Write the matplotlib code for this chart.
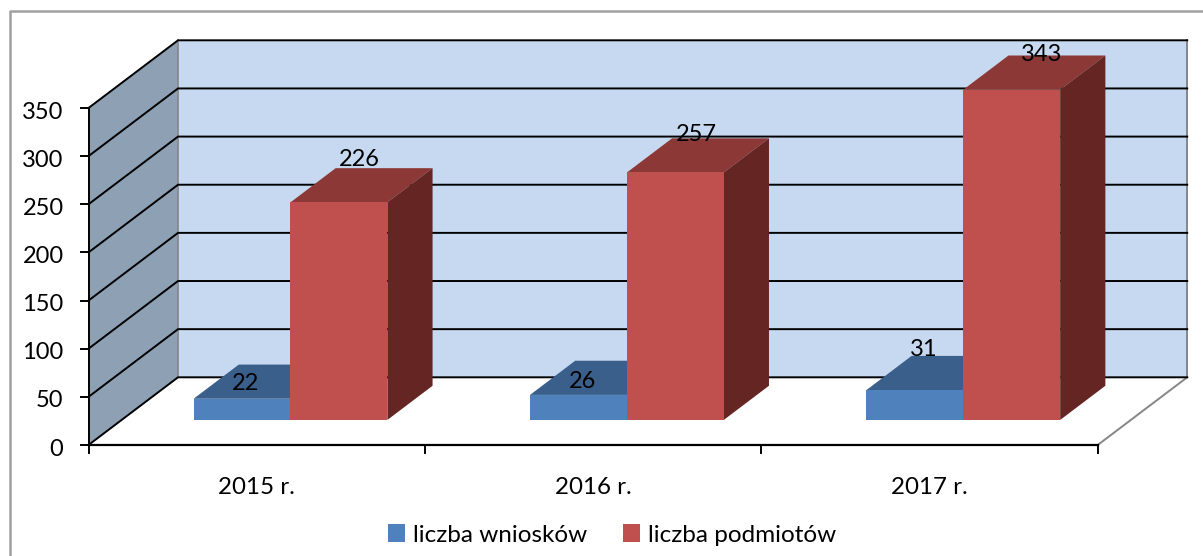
import matplotlib
matplotlib.use("Agg")
import matplotlib.pyplot as plt
from matplotlib.patches import Patch, Polygon

years = ["2015 r.", "2016 r.", "2017 r."]
wnioski = [22, 26, 31]
podmioty = [226, 257, 343]
yticks = [0, 50, 100, 150, 200, 250, 300, 350]

W, H = 1203, 556
X0, Y0 = 88.5, 445       # poczatek osi w pikselach
CAT = (1097.7 - 88.5) / 3
PXV = 337 / 350          # piksele na jednostke
DX, DY = 89.5, 67.7      # glebokosc wykresu
GAP, BW = 0.214, 0.288
D0, D1 = 0.37, 0.875

plt.rcParams["font.family"] = ["Lato", "DejaVu Sans"]
fig = plt.figure(figsize=(W / 100, H / 100), dpi=100)
ax = fig.add_axes([0, 0, 1, 1])
ax.set_xlim(-X0 / CAT, (W - X0) / CAT)
ax.set_ylim(-(H - Y0) / PXV, Y0 / PXV)
ax.axis("off")

def P(x, v, d=0.0):
    return (x + d * DX / CAT, v + d * DY / PXV)

def face(pts, color, z):
    ax.add_patch(Polygon(pts, closed=True, fc=color, ec="none", zorder=z))

top = yticks[-1]
n = len(years)
# sciany
face([P(0, 0), P(0, 0, 1), P(0, top, 1), P(0, top)], "#8EA0B4", 1)
face([P(0, 0, 1), P(n, 0, 1), P(n, top, 1), P(0, top, 1)], "#C6D9F1", 1)
ax.plot(*zip(P(0, 0, 1), P(0, top, 1)), color="#868686", lw=1.2, zorder=2)
ax.plot(*zip(P(n, 0, 1), P(n, top, 1)), color="#868686", lw=1.4, zorder=2)
ax.plot(*zip(P(n, 0), P(n, 0, 1)), color="#868686", lw=1.4, zorder=2)

for v in yticks:
    ax.plot(*zip(P(0, v), P(0, v, 1), P(n, v, 1)), color="black", lw=1.4, zorder=3, solid_joinstyle="miter")
    ax.plot([-8 / CAT, 0], [v, v], color="black", lw=1.4, zorder=3)
    ax.text(-25 / CAT, v - 4 / PXV, str(v), ha="right", va="center", fontsize=17, color="black")
ax.plot([0, 0], [0, top], color="black", lw=1.4, zorder=3)
ax.plot([0, n], [0, 0], color="black", lw=1.6, zorder=3)
for i in range(n + 1):
    ax.plot([i, i], [0, -8 / PXV], color="black", lw=1.4, zorder=3)

def bar(x, v, front, topc, side, z):
    x1 = x + BW
    face([P(x, 0, D0), P(x1, 0, D0), P(x1, v, D0), P(x, v, D0)], front, z + 0.2)
    face([P(x, v, D0), P(x1, v, D0), P(x1, v, D1), P(x, v, D1)], topc, z)
    face([P(x1, 0, D0), P(x1, 0, D1), P(x1, v, D1), P(x1, v, D0)], side, z + 0.1)

nudge_blue = [(3, 15), (4, 13), (9, 41)]
nudge_red = [(20, 43), (21, 38), (30, 35)]
for i in range(n):
    xb = i + GAP
    xr = xb + BW
    bar(xb, wnioski[i], "#4F81BD", "#3A5F8B", "#2F4F75", 4)
    bar(xr, podmioty[i], "#C0504D", "#8C3836", "#652523", 5)
    cx, cy = P(xb + BW / 2, wnioski[i], D0)
    ax.text(cx + nudge_blue[i][0] / CAT, cy + nudge_blue[i][1] / PXV, str(wnioski[i]),
            ha="center", va="center", fontsize=17, color="black", zorder=7)
    cx, cy = P(xr + BW / 2, podmioty[i], D0)
    ax.text(cx + nudge_red[i][0] / CAT, cy + nudge_red[i][1] / PXV, str(podmioty[i]),
            ha="center", va="center", fontsize=17, color="black", zorder=7)
    ax.text(i + 0.5, -43 / PXV, years[i], ha="center", va="center", fontsize=17.4, color="black")

# ramka wykresu, prawa i dolna krawedz poza kadrem
ax.plot([10 / W, 10 / W, 1], [0, 1 - 11 / H, 1 - 11 / H], transform=ax.transAxes,
        color="#A0A0A0", lw=1.8, clip_on=False, zorder=1)

handles = [Patch(fc="#4F81BD", ec="none"), Patch(fc="#C0504D", ec="none")]
ax.legend(handles, ["liczba wniosków", "liczba podmiotów"], ncol=2, frameon=False,
          loc="center", bbox_to_anchor=(612 / W, 1 - 535 / H), fontsize=17.5,
          handlelength=0.7, handleheight=0.7, handletextpad=0.3, columnspacing=1.5,
          labelcolor="black")

fig.savefig("out.png", dpi=100)
